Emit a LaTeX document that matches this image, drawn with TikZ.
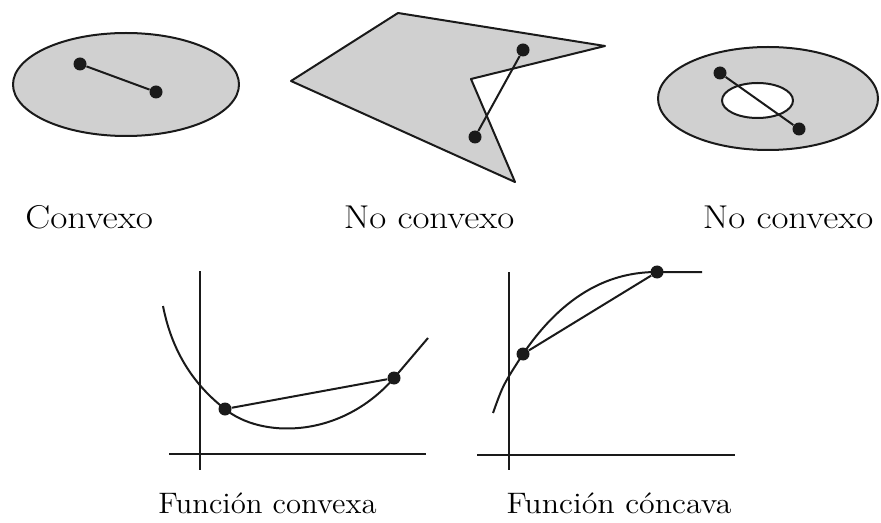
\documentclass[tikz,border=0pt]{standalone}
\usepackage{fontspec}
\usepackage{graphicx}
\usepackage{xcolor}
\usepackage{tikz}
\usetikzlibrary{calc,positioning}
\definecolor{blackline}{HTML}{1A1A1A}
\definecolor{grayfill}{HTML}{D0D0D0}
\tikzset{every node/.append style={font=\rmfamily},
  setline/.style={blackline,line width=1pt,line join=round},
  dotpt/.style={circle,fill=blackline,inner sep=0pt,minimum size=6.5pt},
  toplabel/.style={anchor=base,font=\fontsize{16.5}{20}\selectfont},
  botlabel/.style={anchor=base,font=\fontsize{14.8}{18}\selectfont}}
\newcommand{\widetxt}[2]{\scalebox{#1}[1]{#2}}

\begin{document}
\begin{tikzpicture}[x=0.5pt,y=-0.5pt]
  \useasboundingbox (0,0) rectangle (881,523);
  % convex set
  \filldraw[setline,fill=grayfill] (126,84.5) ellipse [x radius=113,y radius=51.5];
  \node[dotpt] (c1) at (80,64) {};
  \node[dotpt] (c2) at (156,92) {};
  \draw[setline] (c1) -- (c2);
  \node[toplabel,anchor=base west,inner sep=0pt] (lconv) at (25,228) {\widetxt{1.13}{Convexo}};
  % non convex polygon
  \filldraw[setline,fill=grayfill] (398,13) -- (605,46) -- (471,79) -- (515,182) -- (291,81) -- cycle;
  \node[dotpt] (p1) at (523,50) {};
  \node[dotpt] (p2) at (475,137) {};
  \draw[setline] (p1) -- (p2);
  \node[toplabel] (lpoly) at (429,228) {\widetxt{1.12}{No convexo}};
  % ring
  \filldraw[setline,fill=grayfill] (768,98.5) ellipse [x radius=110,y radius=51.5];
  \filldraw[setline,fill=white] (757.5,100.5) ellipse [x radius=35.5,y radius=17.5];
  \node[dotpt] (r1) at (720,73) {};
  \node[dotpt] (r2) at (799,129) {};
  \draw[setline] (r1) -- (r2);
  \node[toplabel] (lring) at (788,228) {\widetxt{1.12}{No convexo}};
  % convex function
  \draw[setline] (200,271) -- (200,470);
  \draw[setline] (169,454) -- (426,454);
  \coordinate (fa) at (225,409);
  \coordinate (fb) at (394,378);
  \draw[setline] (163,306) .. controls (172,352) and (194,385) .. (fa)
    .. controls (260,438) and (340,440) .. (fb) -- (428,338);
  \node[dotpt] (da) at (fa) {};
  \node[dotpt] (db) at (fb) {};
  \draw[setline] (da) -- (db);
  \node[botlabel] (lfconv) at (267.5,513) {\widetxt{1.04}{Función convexa}};
  % concave function
  \draw[setline] (509,272) -- (509,470);
  \draw[setline] (477,455) -- (735,455);
  \coordinate (ga) at (523,354);
  \coordinate (gb) at (657,272);
  \draw[setline] (493,413) .. controls (503,385) .. (ga)
    .. controls (570,285) and (620,272) .. (gb) -- (702,272);
  \node[dotpt] (ea) at (ga) {};
  \node[dotpt] (eb) at (gb) {};
  \draw[setline] (ea) -- (eb);
  \node[botlabel] (lfconc) at (619,513) {\widetxt{1.08}{Función cóncava}};
\end{tikzpicture}
\end{document}
